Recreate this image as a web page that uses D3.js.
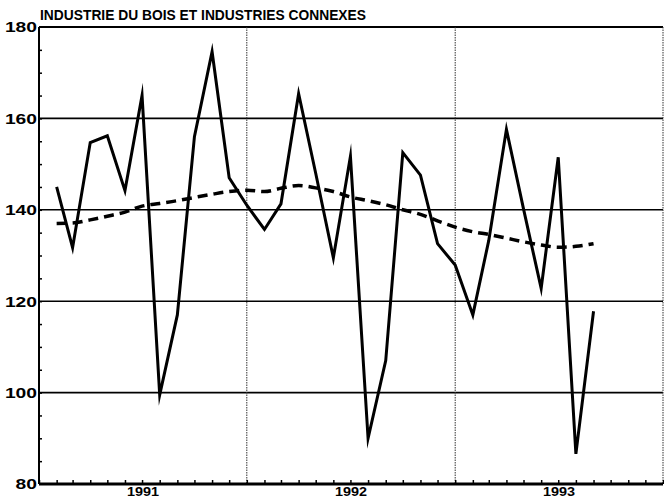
<!DOCTYPE html>
<html>
<head>
<meta charset="utf-8">
<script src="https://cdn.jsdelivr.net/npm/d3@7"></script>
<style>
  html, body { margin: 0; padding: 0; background: #fff; }
  svg { display: block; }
  text { font-family: "Liberation Sans", Arial, sans-serif; font-weight: bold; fill: #000; }
</style>
</head>
<body>
<svg id="chart" width="664" height="499"></svg>
<script>
// monthly data, plotted at the end of each month
const months = [
  "1991-01","1991-02","1991-03","1991-04","1991-05","1991-06",
  "1991-07","1991-08","1991-09","1991-10","1991-11","1991-12",
  "1992-01","1992-02","1992-03","1992-04","1992-05","1992-06",
  "1992-07","1992-08","1992-09","1992-10","1992-11","1992-12",
  "1993-01","1993-02","1993-03","1993-04","1993-05","1993-06",
  "1993-07","1993-08"
]
const raw = [
  145, 131.7, 154.7, 156.2, 144.2, 165, 99.5, 117, 156, 174.6, 147, 141,
  135.7, 141.3, 165.4, 148, 129.5, 151.7, 90, 107, 152.5, 147.6, 132.6, 127.9,
  117, 133.3, 157.6, 140.2, 122.8, 151.5, 86.6, 117.8
]
const trend = [
  137.0, 137.1, 137.8, 138.6, 139.5, 140.8, 141.4, 142.0, 142.7, 143.4, 144.0, 144.3,
  144.0, 144.7, 145.3, 144.8, 144.0, 142.8, 142.0, 141.1, 140.0, 139.0, 137.6, 136.2,
  135.2, 134.6, 133.8, 133.0, 132.3, 131.8, 132.0, 132.6
]
const years = ["1991", "1992", "1993"]
const yTicks = [80, 100, 120, 140, 160, 180]
const title = "INDUSTRIE DU BOIS ET INDUSTRIES CONNEXES"

const svg = d3.select("#chart")
const x0 = 39, x1 = 663, y0 = 27, y1 = 484

const parse = d3.timeParse("%Y-%m")
const x = d3.scaleTime()
    .domain([new Date(1991, 0, 1), new Date(1994, 0, 1)])
    .range([x0, x1])
const y = d3.scaleLinear().domain([80, 180]).range([y1, y0])

const atEnd = m => d3.timeMonth.offset(parse(m), 1)

// horizontal grid
svg.append("g").selectAll("line")
    .data(yTicks.filter(v => v > 80))
  .enter().append("line")
    .attr("x1", x0).attr("x2", x1)
    .attr("y1", d => y(d)).attr("y2", d => y(d))
    .attr("stroke", "#000")
    .attr("stroke-width", d => d === 180 ? 2 : 1.6)

// year separators (dotted)
const yearStarts = years.map(yr => new Date(+yr, 0, 1)).slice(1).concat([new Date(1994, 0, 1)])
svg.append("g").selectAll("line")
    .data(yearStarts)
  .enter().append("line")
    .attr("x1", d => x(d)).attr("x2", d => x(d))
    .attr("y1", y0).attr("y2", y1)
    .attr("stroke", "#333")
    .attr("stroke-width", 1)
    .attr("stroke-dasharray", "1.5,1")

// left axis with minor ticks every 5
svg.append("g")
    .attr("transform", `translate(${x0},0)`)
    .call(d3.axisRight(y).tickValues(d3.range(85, 180, 5)).tickSize(3).tickFormat(""))
    .call(g => g.select(".domain").attr("stroke-width", 2).attr("d", `M0,${y0}V${y1}`))
    .call(g => g.selectAll(".tick line").attr("stroke-width", 1.5))

// y labels
svg.append("g").selectAll("text")
    .data(yTicks)
  .enter().append("text")
    .attr("x", x0 - 2)
    .attr("y", d => y(d))
    .attr("dy", "0.36em")
    .attr("text-anchor", "end")
    .attr("font-size", 15)
    .attr("textLength", d => String(d).length * 10.7)
    .attr("lengthAdjust", "spacingAndGlyphs")
    .text(d => d)

// bottom axis with monthly ticks
svg.append("g")
    .attr("transform", `translate(0,${y1})`)
    .call(d3.axisTop(x).ticks(d3.timeMonth.every(1)).tickSize(4).tickFormat(""))
    .call(g => g.select(".domain").attr("stroke-width", 3).attr("d", `M${x0},0H${x1}`))
    .call(g => g.selectAll(".tick line").attr("stroke-width", 1.5))

// year labels centred in each year
svg.append("g").selectAll("text")
    .data(years)
  .enter().append("text")
    .attr("x", d => (x(new Date(+d, 0, 1)) + x(new Date(+d + 1, 0, 1))) / 2)
    .attr("y", 496)
    .attr("text-anchor", "middle")
    .attr("font-size", 13)
    .attr("textLength", 32)
    .attr("lengthAdjust", "spacingAndGlyphs")
    .text(d => d)

// title
svg.append("text")
    .attr("x", 40)
    .attr("y", 20)
    .attr("font-size", 15)
    .attr("textLength", 326)
    .attr("lengthAdjust", "spacingAndGlyphs")
    .text(title)

// trend (dashed)
const trendLine = d3.line()
    .x((d, i) => x(atEnd(months[i])))
    .y(d => y(d))
    .curve(d3.curveMonotoneX)
svg.append("path")
    .datum(trend)
    .attr("d", trendLine)
    .attr("fill", "none")
    .attr("stroke", "#000")
    .attr("stroke-width", 3.5)
    .attr("stroke-dasharray", "10,6")

// raw series
const rawLine = d3.line()
    .x((d, i) => x(atEnd(months[i])))
    .y(d => y(d))
svg.append("path")
    .datum(raw)
    .attr("d", rawLine)
    .attr("fill", "none")
    .attr("stroke", "#000")
    .attr("stroke-width", 3)
    .attr("stroke-linejoin", "miter")
    .attr("stroke-miterlimit", 10)
</script>
</body>
</html>
